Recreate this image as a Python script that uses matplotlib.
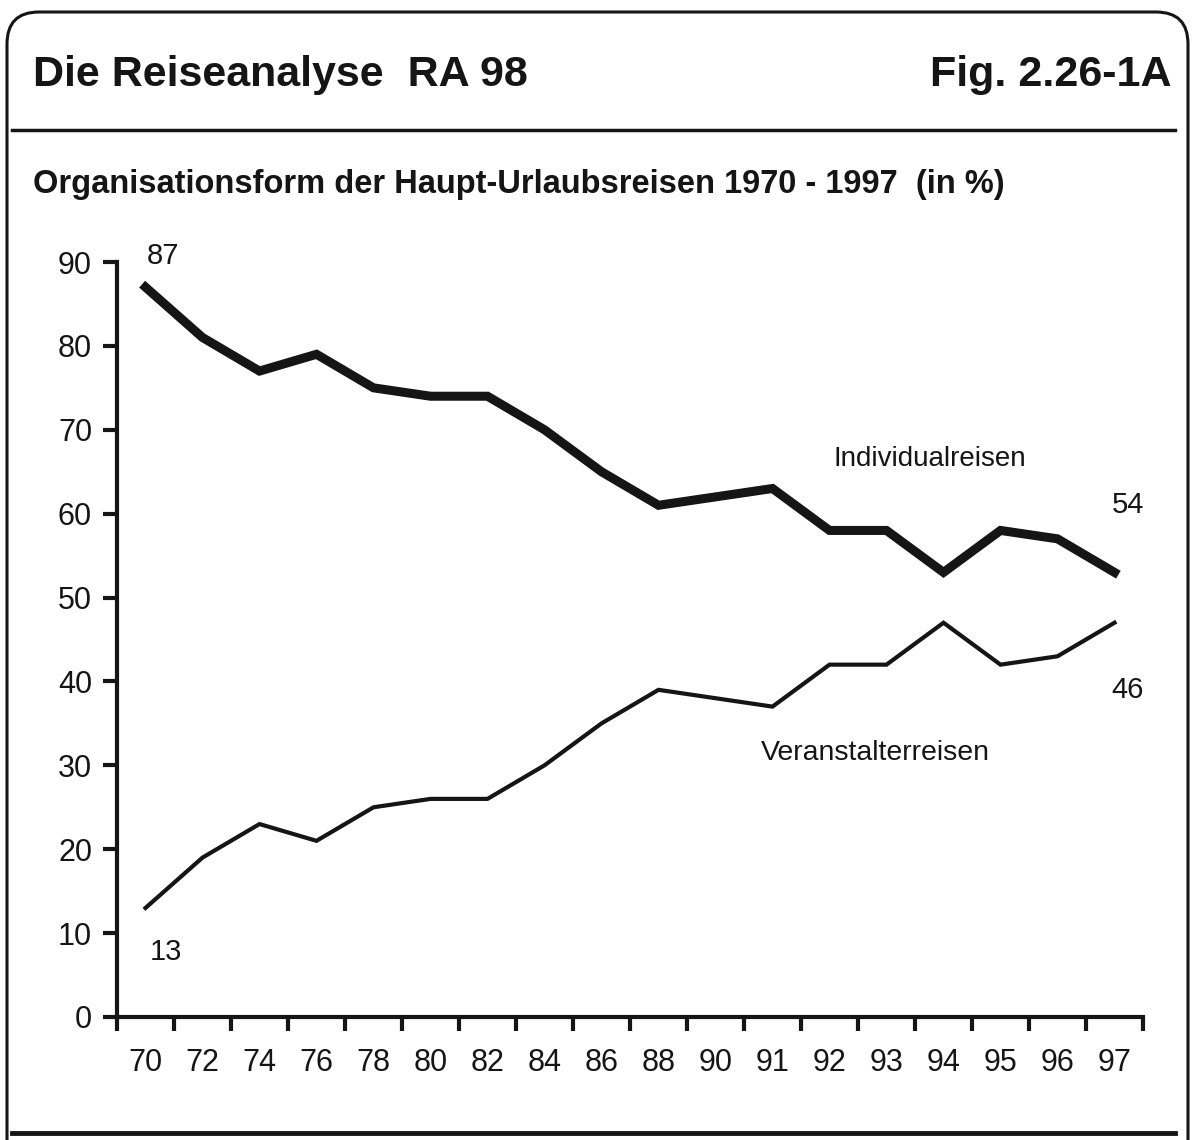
import matplotlib
matplotlib.use("Agg")
import matplotlib.pyplot as plt
from matplotlib.patches import FancyBboxPatch
from matplotlib.transforms import IdentityTransform

# Organisationsform der Haupt-Urlaubsreisen 1970 - 1997 (RA 98)
years = ["70", "72", "74", "76", "78", "80", "82", "84", "86", "88",
         "90", "91", "92", "93", "94", "95", "96", "97"]
individual = [87, 81, 77, 79, 75, 74, 74, 70, 65, 61, 62, 63, 58, 58, 53, 58, 57, 53]
veranstalter = [13, 19, 23, 21, 25, 26, 26, 30, 35, 39, 38, 37, 42, 42, 47, 42, 43, 47]
y_ticks = [0, 10, 20, 30, 40, 50, 60, 70, 80, 90]

W, H = 1192, 1140
plt.rcParams['font.family'] = ['Liberation Sans', 'DejaVu Sans']
fig = plt.figure(figsize=(W / 100, H / 100), dpi=100)

def fx(px):
    return px / W

def fy(py):
    return 1 - py / H

ink = "#151515"

# rahmen mit runden ecken (unten abgeschnitten)
frame = FancyBboxPatch((7, -40), 1181, H - 12 + 40,
                       boxstyle="round,pad=0,rounding_size=32",
                       transform=IdentityTransform(), fill=False,
                       linewidth=2.2, edgecolor=ink)
fig.patches.append(frame)

fig.text(fx(33), fy(75), "Die Reiseanalyse  RA 98", fontsize=31, fontweight="bold",
         ha="left", va="center", color=ink)
fig.text(fx(1172), fy(75), "Fig. 2.26-1A", fontsize=31, fontweight="bold",
         ha="right", va="center", color=ink)
fig.add_artist(plt.Line2D([fx(12), fx(1175)], [fy(130), fy(130)], color=ink, linewidth=2.5))
fig.add_artist(plt.Line2D([fx(12), fx(1175)], [fy(1133), fy(1133)], color=ink, linewidth=3.5))
fig.text(fx(33), fy(184), "Organisationsform der Haupt-Urlaubsreisen 1970 - 1997  (in %)",
         fontsize=23.5, fontweight="bold", ha="left", va="center", color=ink)

ax = fig.add_axes([fx(117), fy(1017), (1143 - 117) / W, (1017 - 262) / H])
x = list(range(len(years)))
ax.plot(x, individual, color=ink, linewidth=6.5, solid_joinstyle="miter")
ax.plot(x, veranstalter, color=ink, linewidth=3, solid_joinstyle="miter")

ax.set_xlim(-0.5, len(years) - 0.5)
ax.set_ylim(0, 90)
for s in ["top", "right"]:
    ax.spines[s].set_visible(False)
for s in ["left", "bottom"]:
    ax.spines[s].set_linewidth(3)
    ax.spines[s].set_color(ink)

ax.set_yticks(y_ticks)
ax.set_yticklabels([str(v) for v in y_ticks])
ax.tick_params(axis="y", direction="out", length=10, width=3, color=ink,
               labelsize=22, pad=8, labelcolor=ink)

ax.set_xticks(x)
ax.set_xticklabels(years)
ax.set_xticks([i - 0.5 for i in range(len(years) + 1)], minor=True)
ax.tick_params(axis="x", which="major", length=0, labelsize=22, pad=22, labelcolor=ink)
ax.tick_params(axis="x", which="minor", direction="out", length=10, width=3, color=ink)

ax.text(0.03, 89, "87", fontsize=21, ha="left", va="bottom", color=ink)
ax.text(0.08, 7.7, "13", fontsize=21, ha="left", va="center", color=ink)
ax.text(16.95, 61, "54", fontsize=21, ha="left", va="center", color=ink)
ax.text(16.95, 39, "46", fontsize=21, ha="left", va="center", color=ink)
ax.text(13.76, 66.5, "Individualreisen", fontsize=20, ha="center", va="center", color=ink)
ax.text(12.8, 31.5, "Veranstalterreisen", fontsize=20.5, ha="center", va="center", color=ink)

fig.savefig("out.png", dpi=100)
